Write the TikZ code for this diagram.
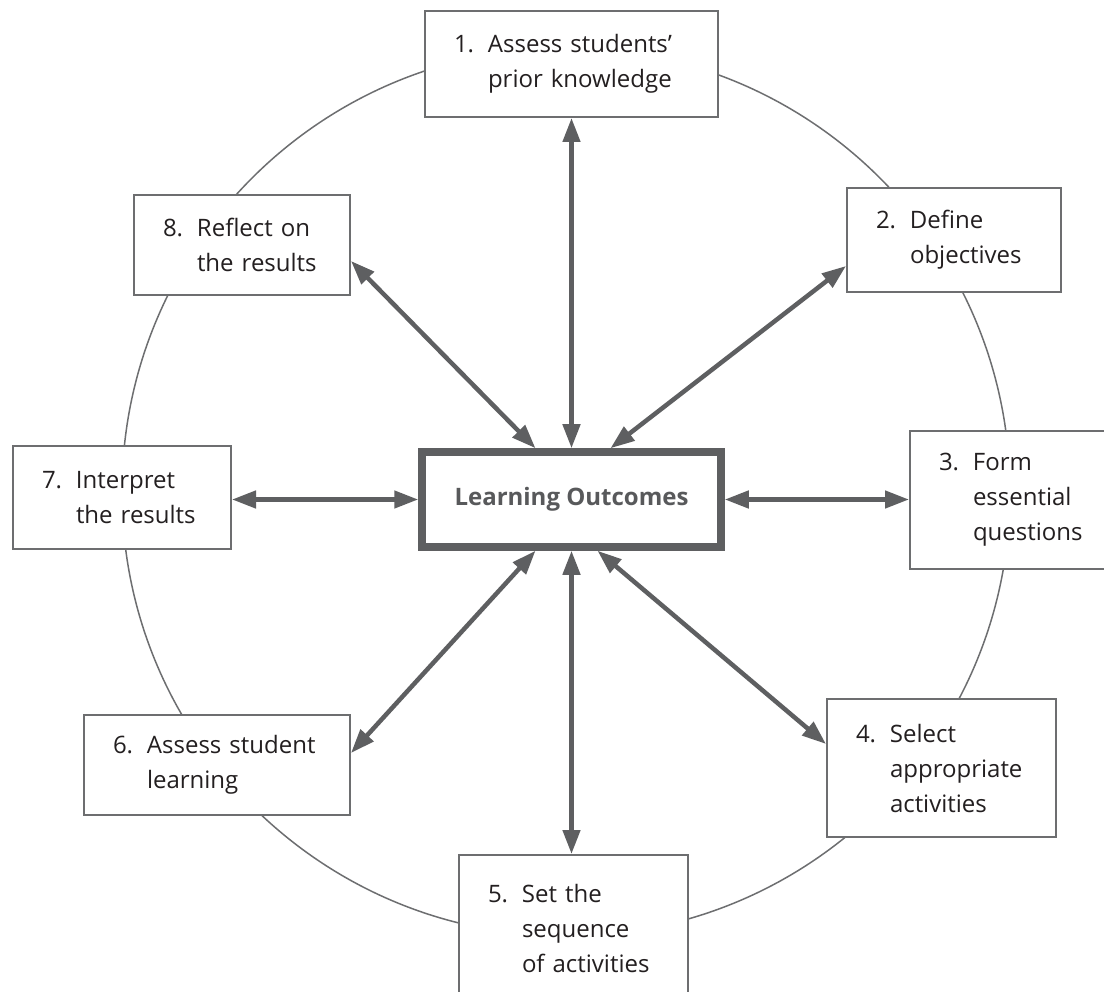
\documentclass[tikz,border=0pt]{standalone}
\usepackage{fontspec}
\setmainfont{Open Sans}
\usetikzlibrary{arrows.meta,calc}
\definecolor{linegray}{HTML}{6D6E70}
\definecolor{arrgray}{HTML}{5E5F61}
\definecolor{txt}{HTML}{231F20}
\definecolor{ctxt}{HTML}{58595B}
\newcommand\numlbl[1]{\makebox[34pt][l]{#1}}
\newcommand\indnt{\hspace*{34pt}}
\tikzset{
  box/.style={draw=linegray, line width=2pt, fill=white, rectangle, inner xsep=29pt, inner ysep=0pt,
    align=left, anchor=north west, text=txt, font=\fontsize{24}{35}\selectfont},
  centerbox/.style={draw=arrgray, line width=7.5pt, fill=white, rectangle, minimum width=299pt, minimum height=95pt,
    text=ctxt, font=\fontsize{24}{30}\selectfont\bfseries},
  ringstyle/.style={draw=linegray, line width=1.5pt, circle, minimum size=888pt, inner sep=0pt},
  arr/.style={draw=arrgray, line width=4.5pt, {Triangle[length=24pt,width=17pt]}-{Triangle[length=24pt,width=17pt]}}
}
\begin{document}
\begin{tikzpicture}[x=1pt,y=-1pt]
\useasboundingbox (0,0) rectangle (1104,992);
\clip (0,0) rectangle (1104,992);
\fill[white] (0,0) rectangle (1104,992);
\node[ringstyle] (ring) at (566,492) {};
% boxes: (L,T), text width = R-L-58, min height = B-T
\node[box, text width=235pt, minimum height=106pt] (b1) at (424,10)
  {\numlbl{1.}Assess students’\\\indnt prior knowledge};
\node[box, text width=156pt, minimum height=104pt] (b2) at (846,187)
  {\numlbl{2.}Define\\\indnt objectives};
\node[box, text width=148pt, minimum height=138pt] (b3) at (909,430)
  {\numlbl{3.}Form\\\indnt essential\\\indnt questions};
\node[box, text width=171pt, minimum height=138pt] (b4) at (826,698)
  {\numlbl{4.}Select\\\indnt appropriate\\\indnt activities};
\node[box, text width=171pt, minimum height=146pt] (b5) at (458,854)
  {\numlbl{5.}Set the\\\indnt sequence\\\indnt of activities};
\node[box, text width=208pt, minimum height=100pt] (b6) at (83,714)
  {\numlbl{6.}Assess student\\\indnt learning};
\node[box, text width=160pt, minimum height=103pt] (b7) at (12,445)
  {\numlbl{7.}Interpret\\\indnt the results};
\node[box, text width=158pt, minimum height=100pt] (b8) at (133,194)
  {\numlbl{8.}Reflect on\\\indnt the results};
\node[centerbox] (c) at (571.5,499.5) {Learning Outcomes};
% arrows
\draw[arr] (c.north) -- (c.north |- b1.south);
\draw[arr] (c.south) -- (c.south |- b5.north);
\draw[arr] (c.east) -- (b3.west |- c.east);
\draw[arr] (c.west) -- (b7.east |- c.west);
\draw[arr] ($(c.north)+(39,0)$) -- ($(b2.west)+(0,26)$);
\draw[arr] ($(c.south)+(26,0)$) -- ($(b4.west)+(0,-24)$);
\draw[arr] ($(c.north)+(-36,0)$) -- ($(b8.east)+(0,16)$);
\draw[arr] ($(c.south)+(-36,0)$) -- ($(b6.east)+(0,-12)$);
\end{tikzpicture}
\end{document}
